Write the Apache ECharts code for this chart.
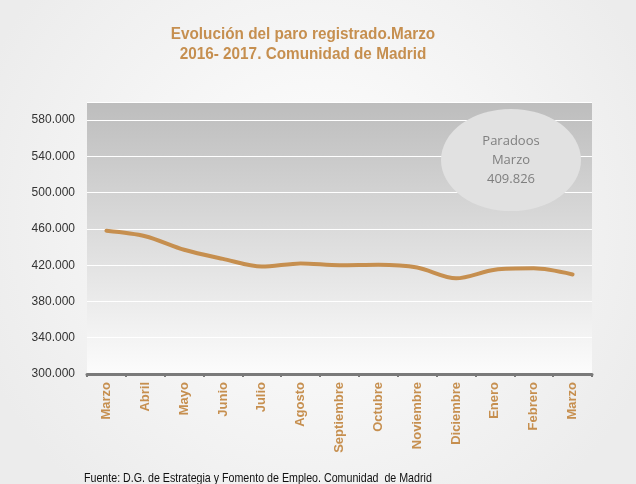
<!DOCTYPE html>
<html>
<head>
<meta charset="utf-8">
<script src="https://cdn.jsdelivr.net/npm/echarts@6/dist/echarts.min.js"></script>
<style>
    html, body { margin: 0; padding: 0; }
    #chart { width: 636px; height: 484px; }
</style>
</head>
<body>
<div id="chart"></div>
<script>
// meses marzo 2016 - marzo 2017
const meses = [ 'Marzo', 'Abril', 'Mayo', 'Junio', 'Julio', 'Agosto', 'Septiembre',
    'Octubre', 'Noviembre', 'Diciembre', 'Enero', 'Febrero', 'Marzo' ]
// paro registrado (miles)
const parados = [ 458, 452, 437, 427, 418.5, 422, 420, 420.5, 417.5, 405.5, 415, 416.5, 409.826 ]
const titulo = 'Evolución del paro registrado.Marzo\n2016- 2017. Comunidad de Madrid'
const fuente = 'Fuente: D.G. de Estrategia y Fomento de Empleo. Comunidad  de Madrid'
const burbuja = 'Paradoos\nMarzo\n409.826'

const oro = '#c68f4f'

const chart = echarts.init( document.getElementById( 'chart' ) )

const option = {
    backgroundColor: {
        type: 'radial', x: 0.5, y: 0.45, r: 0.75,
        colorStops: [ { offset: 0, color: '#ffffff' }, { offset: 1, color: '#ececec' } ]
    },
    animation: false,
    grid: {
        left: 87,
        right: 44,
        top: 102,
        bottom: 110,
        show: true,
        borderWidth: 0,
        backgroundColor: {
            type: 'linear', x: 0, y: 0, x2: 0, y2: 1,
            colorStops: [ { offset: 0, color: '#bdbdbd' }, { offset: 1, color: '#fcfcfc' } ]
        }
    },
    xAxis: {
        type: 'category',
        data: meses,
        boundaryGap: true,
        axisLine: { lineStyle: { color: '#7a7a7a', width: 3 } },
        axisTick: { show: true, length: 3, lineStyle: { color: '#7a7a7a', width: 2 } },
        axisLabel: {
            rotate: 90,
            interval: 0,
            margin: 8,
            color: oro,
            fontFamily: 'Liberation Sans',
            fontWeight: 'bold',
            fontSize: 13
        }
    },
    yAxis: {
        type: 'value',
        min: 300,
        max: 600,
        interval: 40,
        axisLine: { show: false },
        axisTick: { show: false },
        splitLine: { lineStyle: { color: '#ffffff', width: 1 } },
        axisLabel: {
            showMaxLabel: false,
            margin: 12,
            color: '#333333',
            fontFamily: 'Liberation Sans',
            fontSize: 12,
            formatter: v => v.toFixed( 3 )
        }
    },
    series: [
        {
            type: 'line',
            data: parados,
            smooth: 0.3,
            symbol: 'none',
            lineStyle: { color: oro, width: 4, cap: 'round' }
        }
    ],
    graphic: [
        // título en fuente estrecha (escalada)
        {
            type: 'text',
            x: 303,
            y: 24,
            scaleX: 0.9,
            style: {
                text: titulo,
                fill: oro,
                font: 'bold 17px "Liberation Sans"',
                lineHeight: 20,
                textAlign: 'center'
            }
        },
        {
            type: 'circle',
            x: 511,
            y: 160,
            scaleY: 0.73,
            shape: { cx: 0, cy: 0, r: 70 },
            style: { fill: '#e1e1e1' },
            z: 10
        },
        {
            type: 'text',
            x: 511,
            y: 160,
            style: {
                text: burbuja,
                fill: '#7f7f7f',
                font: '13px "Open Sans"',
                lineHeight: 19,
                textAlign: 'center',
                textVerticalAlign: 'middle'
            },
            z: 11
        },
        {
            type: 'text',
            x: 84,
            y: 472,
            scaleX: 0.82,
            style: {
                text: fuente,
                fill: '#111111',
                font: '13px "Liberation Sans"'
            }
        }
    ]
}

chart.setOption( option )
</script>
</body>
</html>
